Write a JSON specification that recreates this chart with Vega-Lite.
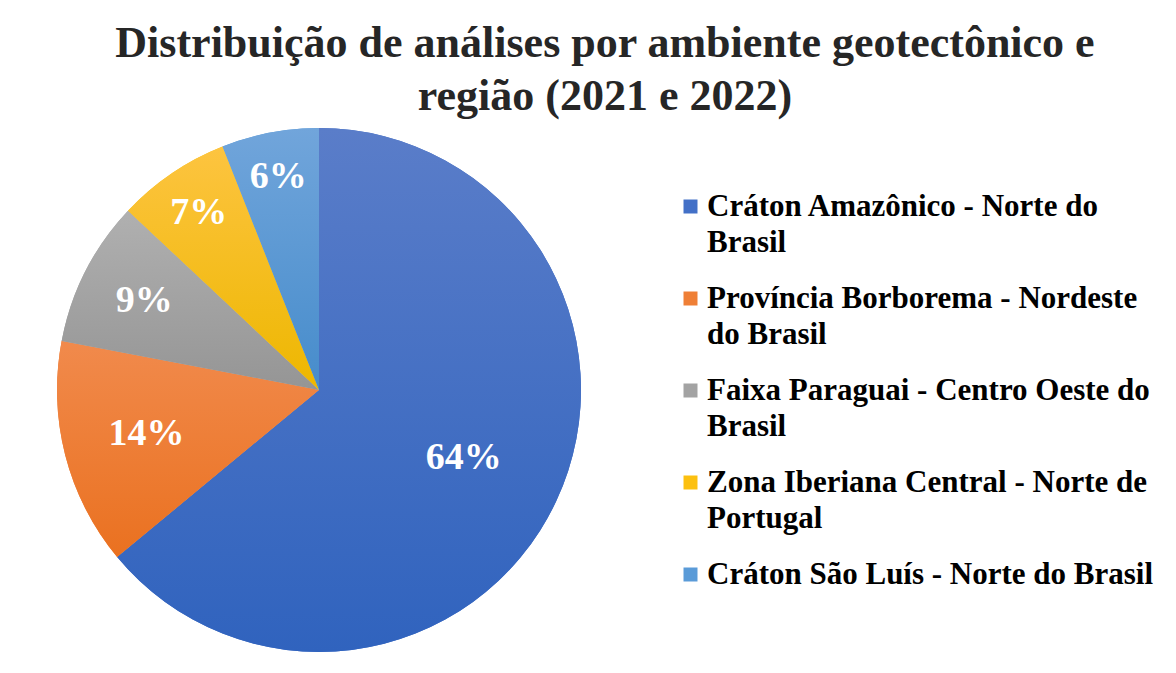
{
  "$schema": "https://vega.github.io/schema/vega-lite/v6.json",
  "width": 524,
  "height": 524,
  "autosize": {"type": "none"},
  "padding": {"left": 57, "top": 128, "right": 595, "bottom": 21},
  "background": "white",
  "title": {
    "text": ["Distribuição de análises por ambiente geotectônico e", "região (2021 e 2022)"],
    "font": "Liberation Serif",
    "fontSize": 44,
    "fontWeight": "bold",
    "color": "#262626",
    "lineHeight": 53,
    "anchor": "middle",
    "dx": 286,
    "offset": 9
  },
  "data": {
    "values": [
      {"regiao": "Cráton Amazônico - Norte do Brasil", "percentual": 0.64, "ordem": 1},
      {"regiao": "Província Borborema - Nordeste do Brasil", "percentual": 0.14, "ordem": 2},
      {"regiao": "Faixa Paraguai - Centro Oeste do Brasil", "percentual": 0.09, "ordem": 3},
      {"regiao": "Zona Iberiana Central - Norte de Portugal", "percentual": 0.07, "ordem": 4},
      {"regiao": "Cráton São Luís - Norte do Brasil", "percentual": 0.06, "ordem": 5}
    ]
  },
  "layer": [
    {
      "mark": {"type": "arc", "outerRadius": 262},
      "encoding": {
        "theta": {"field": "percentual", "type": "quantitative", "stack": true},
        "order": {"field": "ordem", "type": "quantitative"},
        "color": {
          "field": "regiao",
          "type": "nominal",
          "sort": ["Cráton Amazônico - Norte do Brasil", "Província Borborema - Nordeste do Brasil", "Faixa Paraguai - Centro Oeste do Brasil", "Zona Iberiana Central - Norte de Portugal", "Cráton São Luís - Norte do Brasil"],
          "scale": {
            "domain": ["Cráton Amazônico - Norte do Brasil", "Província Borborema - Nordeste do Brasil", "Faixa Paraguai - Centro Oeste do Brasil", "Zona Iberiana Central - Norte de Portugal", "Cráton São Luís - Norte do Brasil"],
            "range": ["#4370C7", "#EF7F36", "#A3A3A3", "#FCC010", "#5A9BD8"]
          },
          "legend": {
            "title": null,
            "orient": "none",
            "legendX": 618,
            "legendY": 63,
            "symbolType": "square",
            "symbolSize": 196,
            "symbolStrokeWidth": 0,
            "labelFont": "Liberation Serif",
            "labelFontSize": 31,
            "labelFontWeight": "bold",
            "labelColor": "#000000",
            "labelLimit": 0,
            "labelOffset": 1,
            "rowPadding": 24,
            "labelExpr": "datum.label == 'Cráton Amazônico - Norte do Brasil' ? ['Cráton Amazônico - Norte do', 'Brasil'] : datum.label == 'Província Borborema - Nordeste do Brasil' ? ['Província Borborema - Nordeste', 'do Brasil'] : datum.label == 'Faixa Paraguai - Centro Oeste do Brasil' ? ['Faixa Paraguai - Centro Oeste do', 'Brasil'] : datum.label == 'Zona Iberiana Central - Norte de Portugal' ? ['Zona Iberiana Central - Norte de', 'Portugal'] : datum.label"
          }
        }
      }
    },
    {
      "mark": {"type": "arc", "outerRadius": 262},
      "encoding": {
        "theta": {"field": "percentual", "type": "quantitative", "stack": true},
        "order": {"field": "ordem", "type": "quantitative"},
        "fill": {
          "condition": [
            {"test": "datum.ordem == 1", "value": {"gradient": "linear", "x1": 0, "y1": 0, "x2": 0, "y2": 1, "stops": [{"offset": 0, "color": "#5A7DC9"}, {"offset": 1, "color": "#3063BE"}]}},
            {"test": "datum.ordem == 2", "value": {"gradient": "linear", "x1": 0, "y1": 0, "x2": 0, "y2": 1, "stops": [{"offset": 0, "color": "#F18A4C"}, {"offset": 1, "color": "#EA7120"}]}},
            {"test": "datum.ordem == 3", "value": {"gradient": "linear", "x1": 0, "y1": 0, "x2": 0, "y2": 1, "stops": [{"offset": 0, "color": "#B0B0B0"}, {"offset": 1, "color": "#959595"}]}},
            {"test": "datum.ordem == 4", "value": {"gradient": "linear", "x1": 0, "y1": 0, "x2": 0, "y2": 1, "stops": [{"offset": 0, "color": "#FDC440"}, {"offset": 1, "color": "#EDB700"}]}}
          ],
          "value": {"gradient": "linear", "x1": 0, "y1": 0, "x2": 0, "y2": 1, "stops": [{"offset": 0, "color": "#71A5DB"}, {"offset": 1, "color": "#468CCB"}]}
        }
      }
    },
    {
      "mark": {"type": "text", "font": "Liberation Serif", "fontSize": 38, "fontWeight": "bold", "align": "center", "baseline": "middle"},
      "encoding": {
        "theta": {"field": "percentual", "type": "quantitative", "stack": true},
        "order": {"field": "ordem", "type": "quantitative"},
        "text": {"field": "percentual", "type": "quantitative", "format": ".0%"},
        "color": {"value": "white"},
        "radius": {
          "field": "percentual",
          "type": "quantitative",
          "scale": {"type": "linear", "zero": false, "nice": false, "domain": [0.06, 0.07, 0.09, 0.14, 0.64], "range": [217, 214, 196, 178, 160]}
        }
      }
    }
  ],
  "config": {
    "view": {"stroke": null},
    "style": {"guide-label": {"lineHeight": 36}}
  }
}
